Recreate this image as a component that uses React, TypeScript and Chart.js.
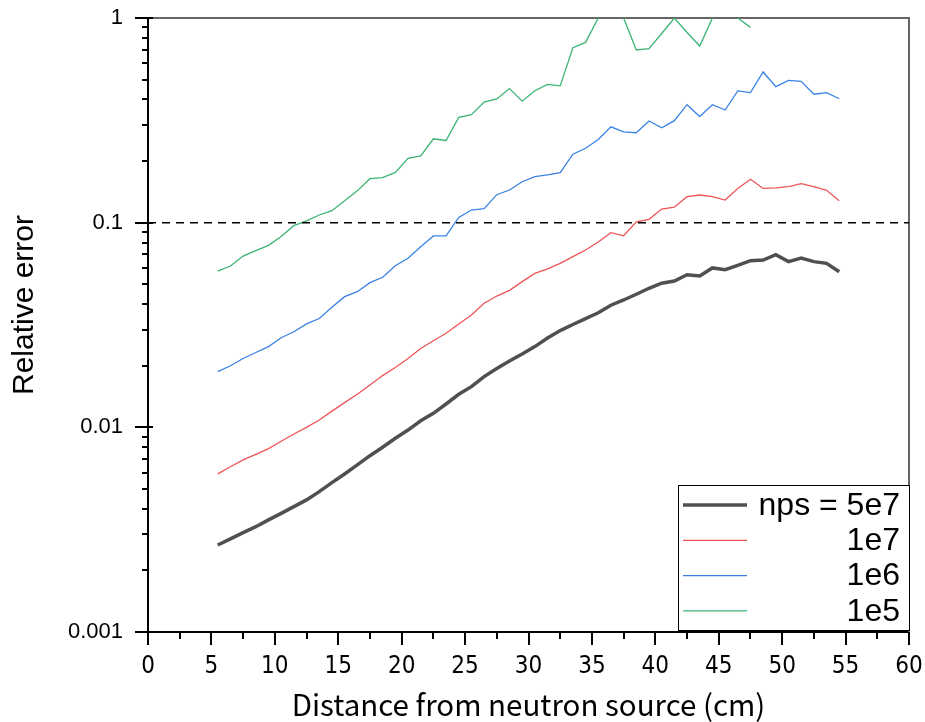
import React, { useEffect, useRef } from 'react';
import { Chart, registerables } from 'chart.js';

Chart.register(...registerables);

// Distance from neutron source (cm)
const distances = [
  5.5, 6.5, 7.5, 8.5, 9.5, 10.5, 11.5, 12.5, 13.5, 14.5,
  15.5, 16.5, 17.5, 18.5, 19.5, 20.5, 21.5, 22.5, 23.5, 24.5,
  25.5, 26.5, 27.5, 28.5, 29.5, 30.5, 31.5, 32.5, 33.5, 34.5,
  35.5, 36.5, 37.5, 38.5, 39.5, 40.5, 41.5, 42.5, 43.5, 44.5,
  45.5, 46.5, 47.5, 48.5, 49.5, 50.5, 51.5, 52.5, 53.5, 54.5,
];

const nps5e7 = [
  0.00266, 0.00285, 0.00306, 0.00327, 0.00353, 0.0038, 0.0041, 0.00442, 0.00485, 0.00537,
  0.00592, 0.00655, 0.00727, 0.00799, 0.00884, 0.0097, 0.01077, 0.0117, 0.013, 0.0145,
  0.0158, 0.0177, 0.0194, 0.0211, 0.0228, 0.0248, 0.0273, 0.0297, 0.0318, 0.034,
  0.0363, 0.0395, 0.0419, 0.0447, 0.0478, 0.0506, 0.0519, 0.0557, 0.0549, 0.0601,
  0.0589, 0.0619, 0.0652, 0.0657, 0.0698, 0.0645, 0.0672, 0.0645, 0.0633, 0.0576,
];

const nps1e7 = [
  0.00592, 0.00642, 0.00693, 0.00738, 0.00787, 0.00855, 0.00928, 0.01, 0.01086, 0.012,
  0.0132, 0.0145, 0.0161, 0.0179, 0.0196, 0.0217, 0.0243, 0.0265, 0.0288, 0.032,
  0.0354, 0.0404, 0.0438, 0.0467, 0.0515, 0.0565, 0.0594, 0.0633, 0.0682, 0.0735,
  0.0805, 0.0893, 0.0863, 0.101, 0.1038, 0.1166, 0.119, 0.134, 0.1365, 0.134,
  0.129, 0.147, 0.163, 0.147, 0.148, 0.15, 0.155, 0.15, 0.144, 0.128,
];

const nps1e6 = [
  0.0187, 0.02, 0.0217, 0.0232, 0.0248, 0.0274, 0.0293, 0.032, 0.034, 0.0386,
  0.0435, 0.046, 0.0509, 0.0541, 0.0616, 0.067, 0.0763, 0.0861, 0.0861, 0.106,
  0.1153, 0.117, 0.137, 0.1444, 0.1585, 0.168, 0.171, 0.1755, 0.216, 0.231,
  0.255, 0.294, 0.278, 0.275, 0.314, 0.291, 0.315, 0.377, 0.33, 0.377,
  0.355, 0.44, 0.432, 0.545, 0.462, 0.496, 0.49, 0.424, 0.432, 0.403,
];

const nps1e5 = [
  0.058, 0.0614, 0.0687, 0.073, 0.0775, 0.0855, 0.0967, 0.102, 0.109, 0.1144,
  0.128, 0.143, 0.164, 0.166, 0.176, 0.206, 0.212, 0.257, 0.252, 0.327,
  0.337, 0.388, 0.402, 0.452, 0.392, 0.441, 0.474, 0.466, 0.716, 0.76,
  1.0, 1.1, 1.0, 0.698, 0.708, 0.84, 1.0, 0.85, 0.73, 1.0,
  1.1, 1.0, 0.9,
];

const seriesLabels = ['nps = 5e7', '1e7', '1e6', '1e5'];
const xTickValues = [0, 5, 10, 15, 20, 25, 30, 35, 40, 45, 50, 55, 60];
const yTickValues = [0.001, 0.01, 0.1, 1];
const thresholdLine = [0.1, 0.1];
const thresholdX = [0, 60];

const COLORS = {
  black: '#505050',
  red: '#f05555',
  blue: '#3a82e6',
  green: '#3cb473',
};

const toPoints = (vals: number[]) => vals.map((v, i) => ({ x: distances[i], y: v }));

const zeroPadding = (axis: any) => {
  axis.paddingLeft = 0;
  axis.paddingRight = 0;
  axis.paddingTop = 0;
  axis.paddingBottom = 0;
};

export default function App() {
  const canvasRef = useRef<HTMLCanvasElement | null>(null);

  useEffect(() => {
    const canvas = canvasRef.current;
    if (!canvas) return;

    const framePlugin = {
      id: 'frame',
      beforeDatasetsDraw(chart: any) {
        const { ctx, chartArea } = chart;
        ctx.save();
        ctx.strokeStyle = '#666666';
        ctx.lineWidth = 2;
        ctx.beginPath();
        ctx.moveTo(chartArea.left, chartArea.top);
        ctx.lineTo(chartArea.right, chartArea.top);
        ctx.lineTo(chartArea.right, chartArea.bottom);
        ctx.stroke();
        ctx.restore();
      },
    };

    const tickMarksPlugin = {
      id: 'tickMarks',
      afterDraw(chart: any) {
        const { ctx, chartArea, scales } = chart;
        const xs = scales.x;
        const ys = scales.y;
        ctx.save();
        ctx.strokeStyle = '#000';
        ctx.lineWidth = 2;
        ctx.beginPath();
        for (let d = 0; d < yTickValues.length; d++) {
          const dec = yTickValues[d];
          for (let m = 1; m <= 9; m++) {
            const v = dec * m;
            if (v > 1.0000001) break;
            const py = Math.round(ys.getPixelForValue(v));
            if (m === 1) {
              ctx.moveTo(chartArea.left - 13, py);
              ctx.lineTo(chartArea.left + 5, py);
            } else {
              ctx.moveTo(chartArea.left - 6, py);
              ctx.lineTo(chartArea.left, py);
            }
          }
        }
        for (let i = 0; i < xTickValues.length; i++) {
          const v = xTickValues[i];
          const px = Math.round(xs.getPixelForValue(v));
          ctx.moveTo(px, chartArea.bottom);
          ctx.lineTo(px, chartArea.bottom + 13);
          if (i < xTickValues.length - 1) {
            const mv = (xTickValues[i] + xTickValues[i + 1]) / 2;
            const mx = Math.round(xs.getPixelForValue(mv));
            ctx.moveTo(mx, chartArea.bottom);
            ctx.lineTo(mx, chartArea.bottom + 7);
          }
        }
        ctx.stroke();
        ctx.restore();
      },
    };

    const yTitlePlugin = {
      id: 'yTitle',
      afterDraw(chart: any) {
        const { ctx } = chart;
        ctx.save();
        ctx.translate(25, 305);
        ctx.rotate(-Math.PI / 2);
        ctx.fillStyle = '#000';
        ctx.font = '30px "Liberation Sans", Arial, sans-serif';
        ctx.textAlign = 'center';
        ctx.textBaseline = 'middle';
        ctx.fillText('Relative error', 0, 0);
        ctx.restore();
      },
    };

    const legendPlugin = {
      id: 'customLegend',
      afterDraw(chart: any) {
        const { ctx, chartArea } = chart;
        const boxRight = chartArea.right + 1;
        const boxBottom = chartArea.bottom - 1;
        const boxW = 232;
        const boxH = 146;
        const boxLeft = boxRight - boxW;
        const boxTop = boxBottom - boxH;
        ctx.save();
        ctx.fillStyle = '#fff';
        ctx.fillRect(boxLeft, boxTop, boxW, boxH);
        ctx.strokeStyle = '#000';
        ctx.lineWidth = 1;
        ctx.strokeRect(boxLeft + 0.5, boxTop + 0.5, boxW - 1, boxH - 1);
        const order = [4, 3, 2, 1];
        ctx.font = '32px "Liberation Sans", Arial, sans-serif';
        ctx.textAlign = 'right';
        ctx.textBaseline = 'middle';
        order.forEach((dsIndex, row) => {
          const ds = chart.data.datasets[dsIndex];
          const y = boxTop + 20 + row * 35.3;
          ctx.strokeStyle = ds.borderColor;
          ctx.lineWidth = ds.borderWidth;
          ctx.beginPath();
          ctx.moveTo(boxLeft + 5, y);
          ctx.lineTo(boxLeft + 69, y);
          ctx.stroke();
          ctx.fillStyle = '#000';
          ctx.fillText(ds.label, boxRight - 10, y + 1);
        });
        ctx.restore();
      },
    };

    const chart = new Chart(canvas, {
      type: 'line',
      data: {
        datasets: [
          {
            label: 'threshold',
            data: thresholdX.map((x, i) => ({ x, y: thresholdLine[i] })),
            borderColor: '#000',
            borderWidth: 1.5,
            borderDash: [8, 6],
            pointRadius: 0,
          },
          {
            label: seriesLabels[3],
            data: toPoints(nps1e5),
            borderColor: COLORS.green,
            borderWidth: 1.3,
            pointRadius: 0,
          },
          {
            label: seriesLabels[2],
            data: toPoints(nps1e6),
            borderColor: COLORS.blue,
            borderWidth: 1.3,
            pointRadius: 0,
          },
          {
            label: seriesLabels[1],
            data: toPoints(nps1e7),
            borderColor: COLORS.red,
            borderWidth: 1.3,
            pointRadius: 0,
          },
          {
            label: seriesLabels[0],
            data: toPoints(nps5e7),
            borderColor: COLORS.black,
            borderWidth: 3.5,
            pointRadius: 0,
          },
        ],
      },
      options: {
        responsive: false,
        animation: false,
        layout: { padding: { top: 18, right: 16, left: 0, bottom: 0 } },
        plugins: {
          legend: { display: false },
          tooltip: { enabled: false },
        },
        elements: { line: { tension: 0 } },
        scales: {
          x: {
            type: 'linear',
            min: 0,
            max: 60,
            afterBuildTicks: (axis: any) => {
              axis.ticks = xTickValues.map((v) => ({ value: v }));
            },
            afterFit: (axis: any) => {
              axis.height = 90;
              zeroPadding(axis);
            },
            grid: { display: false, drawTicks: false },
            border: { display: true, color: '#000', width: 2 },
            ticks: {
              padding: 20,
              color: '#000',
              autoSkip: false,
              maxRotation: 0,
              font: { family: '"Liberation Sans Narrow", "DejaVu Sans Condensed", sans-serif', size: 24 },
              callback: (v: any) => String(v),
            },
            title: {
              display: true,
              text: 'Distance from neutron source (cm)',
              color: '#000',
              font: { family: '"Noto Sans CJK JP", sans-serif', size: 29.5 },
              padding: { top: 0, bottom: 0 },
            },
          },
          y: {
            type: 'logarithmic',
            min: 0.001,
            max: 1,
            afterBuildTicks: (axis: any) => {
              axis.ticks = yTickValues.map((v) => ({ value: v }));
            },
            afterFit: (axis: any) => {
              axis.width = 148;
              zeroPadding(axis);
            },
            grid: { display: false, drawTicks: false },
            border: { display: true, color: '#000', width: 2 },
            ticks: {
              padding: 25,
              color: '#000',
              autoSkip: false,
              font: { family: '"Liberation Sans", Arial, sans-serif', size: 22 },
              callback: (v: any) => String(v),
            },
          },
        },
      },
      plugins: [framePlugin, tickMarksPlugin, yTitlePlugin, legendPlugin],
    });

    return () => chart.destroy();
  }, []);

  return (
    <div style={{ position: 'absolute', left: 0, top: 0, width: 925, height: 722, background: '#fff' }}>
      <canvas ref={canvasRef} width={925} height={722} style={{ display: 'block' }} />
    </div>
  );
}
